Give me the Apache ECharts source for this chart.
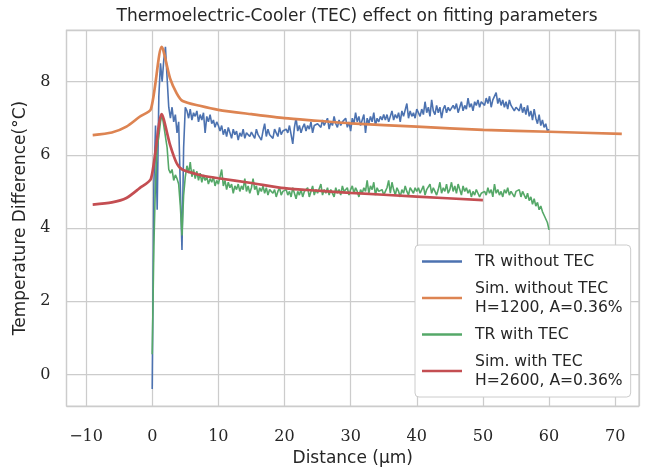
<!DOCTYPE html>
<html>
<head>
<meta charset="utf-8">
<script src="https://cdn.jsdelivr.net/npm/echarts@6/dist/echarts.min.js"></script>
<style>html,body{margin:0;padding:0;background:#fff}#c{width:651px;height:472px}</style>
</head>
<body>
<div id="c"></div>
<script>
// ---- data ----
const titleText = 'Thermoelectric-Cooler (TEC) effect on fitting parameters';
const xName = 'Distance (\u03bcm)';
const yName = 'Temperature Difference(\u00b0C)';
const seriesNames = ['TR without TEC', 'Sim. without TEC\nH=1200, A=0.36%', 'TR with TEC', 'Sim. with TEC\nH=2600, A=0.36%'];

// measured traces, uniformly sampled from trStart to trEnd
const trStart = 0;
const trEnd = 60;
const trWithoutTEC = [
  -0.4, 5.2, 6.8, 4.5, 7.6, 8.5, 8.0, 8.6, 8.95, 8.1, 7.3, 7.0, 7.3, 6.9, 7.1, 6.6, 6.9, 5.1, 3.4, 6.2, 7.3,
  7.2, 7.0, 7.25, 6.95, 7.15, 7.05, 7.2, 6.9, 7.1, 6.95, 7.15, 6.6, 7.05, 6.9, 7.1, 6.85, 6.95, 6.75, 6.9, 6.8,
  6.65, 6.8, 6.55, 6.7, 6.5, 6.75, 6.6, 6.45, 6.7, 6.55, 6.65, 6.4, 6.6, 6.5, 6.7, 6.45, 6.6, 6.55, 6.5, 6.62,
  6.6, 6.45, 6.7, 6.55, 6.6, 6.4, 6.65, 6.85, 6.5, 6.7, 6.55, 6.6, 6.45, 6.7, 6.6, 6.5, 6.75, 6.55, 6.65, 6.6,
  6.7, 6.6, 6.8, 6.55, 6.3, 6.75, 7.0, 6.65, 6.8, 6.6, 6.75, 6.85, 6.65, 6.8, 6.7, 6.9, 6.6, 6.8, 6.75, 6.85,
  6.9, 6.75, 6.95, 6.8, 6.85, 7.0, 6.7, 6.9, 6.8, 7.05, 6.85, 6.75, 6.95, 6.8, 6.9, 6.85, 7.0, 6.75, 6.9, 6.65,
  7.0, 6.85, 7.15, 6.9, 7.05, 6.8, 6.95, 7.1, 6.6, 7.0, 6.85, 7.05, 6.9, 7.15, 6.8, 7.0, 6.9, 7.05, 6.95, 7.1,
  6.95, 7.1, 6.9, 7.05, 7.2, 6.95, 7.1, 7.0, 7.15, 6.9, 7.2, 7.05, 7.1, 7.4, 7.0, 7.2, 7.05, 7.15, 7.0, 7.25,
  7.3, 7.05, 7.25, 7.1, 7.45, 7.15, 7.3, 7.05, 7.5, 7.2, 7.1, 7.35, 7.15, 7.3, 7.0, 7.25, 7.35, 7.15, 7.3, 7.2,
  7.2, 7.35, 7.25, 7.4, 7.15, 7.3, 7.45, 7.2, 7.35, 7.25, 7.55, 7.3, 7.4, 7.2, 7.45, 7.35, 7.5, 7.3, 7.45, 7.4,
  7.35, 7.55, 7.4, 7.6, 7.3, 7.5, 7.45, 7.7, 7.4, 7.55, 7.35, 7.5, 7.3, 7.45, 7.25, 7.5, 7.35, 7.4, 7.2, 7.3,
  7.35, 7.2, 7.4, 7.15, 7.3, 7.1, 7.35, 7.05, 7.2, 6.95, 7.25, 7.0, 6.85, 7.1, 6.8, 6.95, 6.75, 6.85, 6.65, 6.7
];
const trWithTEC = [
  0.55, 3.5, 5.3, 6.2, 6.5, 6.9, 7.1, 6.8, 6.5, 6.2, 5.6, 5.5, 5.6, 5.3, 5.45, 5.35, 5.2, 4.6, 3.8, 4.9, 5.4,
  5.7, 5.5, 5.8, 5.4, 5.6, 5.35, 5.55, 5.3, 5.5, 5.25, 5.45, 5.3, 5.4, 5.2, 5.35, 5.25, 5.4, 5.15, 5.3, 5.2,
  5.2, 5.6, 5.15, 5.3, 5.05, 5.25, 5.1, 5.2, 4.95, 5.15, 5.05, 5.2, 5.0, 5.15, 5.05, 5.35, 5.0, 5.15, 4.95, 5.1,
  5.35, 5.05, 5.15, 4.9, 5.1, 5.0, 5.15, 4.95, 5.1, 4.9, 5.05, 5.1, 4.95, 5.05, 4.85, 5.0, 5.1, 4.9, 5.0, 4.95,
  5.05, 4.9, 5.0, 4.85, 5.1, 4.95, 4.8, 5.0, 4.9, 5.05, 4.85, 5.0, 4.95, 5.1, 4.85, 5.0, 5.15, 4.9, 5.05, 4.95,
  5.0, 5.2, 4.9, 5.05, 4.95, 5.1, 4.9, 5.05, 5.0, 4.85, 5.1, 4.95, 5.05, 4.9, 5.15, 5.0, 4.95, 5.1, 4.9, 5.05,
  5.15, 4.95, 5.1, 5.0, 4.85, 5.05, 4.95, 5.1, 5.0, 5.3, 4.95, 5.15, 5.05, 5.25, 4.9, 5.1, 5.0, 4.95, 5.05, 4.9,
  5.0, 5.1, 5.3, 4.95, 5.25, 5.05, 4.9, 5.1, 5.0, 4.85, 5.05, 4.95, 5.15, 5.0, 4.9, 5.1, 5.05, 4.95, 5.1, 5.0,
  5.1, 4.95, 5.05, 5.15, 4.9, 5.05, 5.0, 5.2, 4.95, 5.1, 5.0, 4.9, 5.05, 5.25, 4.95, 5.1, 5.0, 5.2, 4.95, 5.05,
  5.25, 5.0, 5.15, 4.95, 5.2, 5.05, 4.9, 5.15, 5.0, 5.1, 4.95, 5.05, 4.85, 5.0, 4.9, 5.05, 4.95, 4.85, 4.95, 4.9,
  5.0, 4.9, 5.1, 4.95, 5.05, 4.85, 5.2, 4.95, 5.05, 4.9, 5.0, 4.85, 5.05, 4.95, 5.1, 4.9, 5.0, 4.95, 4.85, 5.0,
  4.95, 5.05, 4.85, 5.0, 4.9, 4.8, 4.95, 4.75, 4.85, 4.65, 4.8, 4.6, 4.7, 4.5, 4.6, 4.45, 4.35, 4.4, 4.15, 3.95
];

// simulations
const simWithoutX = [-9.0, -6.1, -3.9, -1.9, -0.2, 1.44, 2.7, 3.7, 4.6, 7.2, 10, 15, 20, 25, 30, 40, 50, 60, 71];
const simWithoutY = [6.54, 6.61, 6.77, 7.04, 7.25, 8.95, 8.09, 7.68, 7.47, 7.34, 7.23, 7.11, 7.0, 6.93, 6.86, 6.77, 6.68, 6.63, 6.57];
const simWithX = [-9.0, -6.1, -3.9, -1.9, -0.2, 1.44, 2.7, 3.7, 4.6, 7.2, 10, 15, 20, 25, 30, 40, 50];
const simWithY = [4.64, 4.70, 4.82, 5.09, 5.34, 7.11, 6.27, 5.77, 5.59, 5.45, 5.36, 5.23, 5.09, 5.02, 4.96, 4.86, 4.76];

// ---- build ----
function tracePairs(vals) {
  const n = vals.length;
  return vals.map((v, i) => [trStart + i * (trEnd - trStart) / (n - 1), v]);
}
function zipPairs(xs, ys) { return xs.map((x, i) => [x, ys[i]]); }

const colors = ['#4C72B0', '#DD8452', '#55A868', '#C44E52'];
const sans = '"DejaVu Sans", sans-serif';
const serif = '"DejaVu Serif", serif';
const txt = '#262626';
const gridC = '#cccccc';
const fmtNum = v => String(v).replace('-', '\u2212');

const chart = echarts.init(document.getElementById('c'), null, { renderer: 'canvas' });
chart.setOption({
  animation: false,
  backgroundColor: '#ffffff',
  color: colors,
  title: {
    text: titleText, left: 352, top: 3, textAlign: 'center',
    textStyle: { fontFamily: sans, fontSize: 17, fontWeight: 'normal', color: txt }
  },
  grid: { left: 66.5, right: 12, top: 30, bottom: 65.3, show: true, borderColor: gridC, borderWidth: 1.25, backgroundColor: 'transparent' },
  xAxis: {
    type: 'value', min: -12.96, max: 73.6, minInterval: 10, maxInterval: 10,
    name: xName, nameLocation: 'middle', nameGap: 41,
    nameTextStyle: { fontFamily: sans, fontSize: 17, color: txt },
    axisLine: { show: false }, axisTick: { show: false },
    axisLabel: { margin: 23, fontFamily: serif, fontSize: 16, color: txt, showMinLabel: false, showMaxLabel: false, formatter: fmtNum },
    splitLine: { show: true, lineStyle: { color: gridC, width: 1.25 } }
  },
  yAxis: {
    type: 'value', min: -0.865, max: 9.41, minInterval: 2, maxInterval: 2,
    name: yName, nameLocation: 'middle', nameGap: 32,
    nameTextStyle: { fontFamily: sans, fontSize: 17, color: txt },
    axisLine: { show: false }, axisTick: { show: false },
    axisLabel: { margin: 16, fontFamily: serif, fontSize: 16, color: txt, showMinLabel: false, showMaxLabel: false, formatter: fmtNum },
    splitLine: { show: true, lineStyle: { color: gridC, width: 1.25 } }
  },
  legend: {
    orient: 'vertical', left: 415, top: 245,
    padding: [7, 8, 7, 7], itemGap: 8, itemWidth: 40, itemHeight: 2.4, icon: 'rect',
    backgroundColor: '#ffffff', borderColor: gridC, borderWidth: 1, borderRadius: 4,
    textStyle: { fontFamily: sans, fontSize: 15.6, color: txt, lineHeight: 19, padding: [0, 0, 0, 8] },
    data: seriesNames
  },
  series: [
    { name: seriesNames[0], type: 'line', symbol: 'none', data: tracePairs(trWithoutTEC), lineStyle: { width: 1.6, color: colors[0] }, itemStyle: { color: colors[0] } },
    { name: seriesNames[1], type: 'line', symbol: 'none', data: zipPairs(simWithoutX, simWithoutY), smooth: 0.25, lineStyle: { width: 2.7, color: colors[1] }, itemStyle: { color: colors[1] } },
    { name: seriesNames[2], type: 'line', symbol: 'none', data: tracePairs(trWithTEC), lineStyle: { width: 1.6, color: colors[2] }, itemStyle: { color: colors[2] } },
    { name: seriesNames[3], type: 'line', symbol: 'none', data: zipPairs(simWithX, simWithY), smooth: 0.25, lineStyle: { width: 2.7, color: colors[3] }, itemStyle: { color: colors[3] } }
  ]
});
</script>
</body>
</html>
